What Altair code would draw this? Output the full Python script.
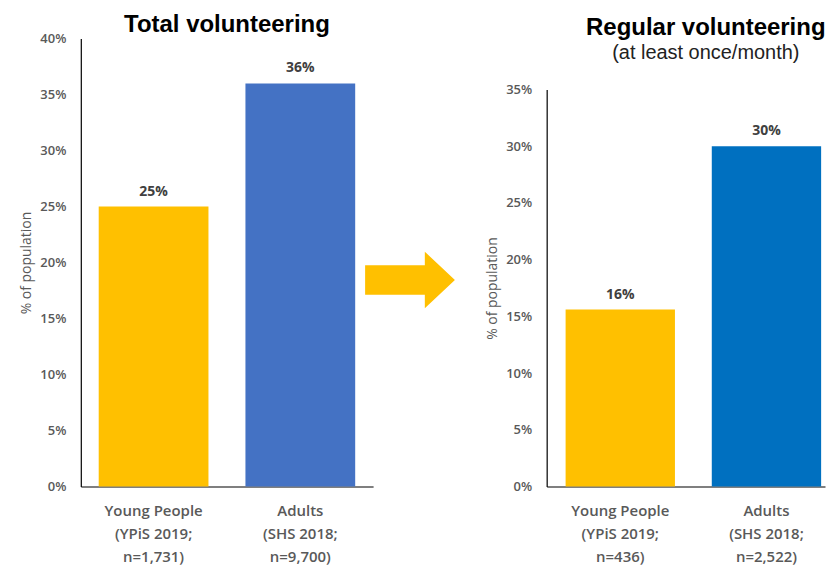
import altair as alt
import pandas as pd

# ---- data ----
groups = ["Young People", "Adults"]
total_sources = ["(YPiS 2019;", "(SHS 2018;"]
total_n = ["n=1,731)", "n=9,700)"]
total_values = [25, 36]
total_labels = ["25%", "36%"]

regular_sources = ["(YPiS 2019;", "(SHS 2018;"]
regular_n = ["n=436)", "n=2,522)"]
regular_values = [15.6, 30]
regular_labels = ["16%", "30%"]

total_ticks = [0, 5, 10, 15, 20, 25, 30, 35, 40]
regular_ticks = [0, 5, 10, 15, 20, 25, 30, 35]

total_colors = ["#FFC000", "#4472C4"]
regular_colors = ["#FFC000", "#0070C0"]

total_df = pd.DataFrame({
    "cat": [f"{g}|{s}|{n}" for g, s, n in zip(groups, total_sources, total_n)],
    "value": total_values,
    "label": total_labels,
    "color": total_colors,
})
regular_df = pd.DataFrame({
    "cat": [f"{g}|{s}|{n}" for g, s, n in zip(groups, regular_sources, regular_n)],
    "value": regular_values,
    "label": regular_labels,
    "color": regular_colors,
})

GRAY = "#595959"


def x_enc(outer, align):
    return alt.X(
        "cat:N", sort=None,
        scale=alt.Scale(paddingInner=0.252, paddingOuter=outer, align=align),
        axis=alt.Axis(
            title=None, labelExpr="split(datum.value, '|')", labelAngle=0,
            labelFont="Open Sans", labelFontSize=15, labelFontWeight=600,
            labelColor=GRAY, labelLineHeight=23, labelPadding=17,
            ticks=False, domainColor="#000000", domainWidth=1.2, grid=False,
        ),
    )


def y_enc(ticks, domain, rng=None):
    sc = alt.Scale(domain=domain, nice=False, zero=True)
    if rng is not None:
        sc = alt.Scale(domain=domain, nice=False, zero=True, range=rng)
    return alt.Y(
        "value:Q", scale=sc,
        axis=alt.Axis(
            title="% of population", values=ticks, labelExpr="datum.value + '%'",
            labelFont="Open Sans", labelFontSize=13, labelFontWeight=600,
            labelColor=GRAY,
            labelPadding=15, titleFont="Open Sans", titleFontSize=14,
            titleFontWeight="normal", titleColor=GRAY, titlePadding=6,
            ticks=False, grid=False, domainColor="#000000", domainWidth=1.2,
        ),
    )


def panel(df, ticks, domain, width, outer, align, title, rng=None):
    base = alt.Chart(df)
    bars = base.mark_bar().encode(
        x=x_enc(outer, align),
        y=y_enc(ticks, domain, rng),
        color=alt.Color("color:N", scale=None),
    )
    text = base.mark_text(
        font="Open Sans", fontSize=14, fontWeight="bold", color="#404040",
        baseline="alphabetic", dy=-11,
    ).encode(x=alt.X("cat:N", sort=None), y="value:Q", text="label:N")
    return (bars + text).properties(width=width, height=449, title=title)


left = panel(
    total_df, total_ticks, [0, 40], 293, 0.122, 0.5,
    alt.TitleParams(
        "Total volunteering", font="Liberation Sans", fontSize=24,
        fontWeight="bold", color="#000000", anchor="middle", frame="group",
        offset=-4,
    ),
)

right = panel(
    regular_df, regular_ticks, [0, 35], 279, 0.078, 0.83,
    alt.TitleParams(
        "Regular volunteering", subtitle="(at least once/month)",
        font="Liberation Sans", fontSize=24, fontWeight="bold", color="#000000",
        subtitleFont="Liberation Sans", subtitleFontSize=20,
        subtitleColor="#222222", subtitlePadding=3,
        anchor="middle", frame="group", offset=-24, dx=20,
    ),
    rng=[449, 51],
)

arrow_path = ("M-1,-0.33 L0.33,-0.33 L0.33,-0.63 L1,0 L0.33,0.63 "
              "L0.33,0.33 L-1,0.33 Z")
arrow = alt.Chart(pd.DataFrame({"a": [0]})).mark_point(
    shape=arrow_path, size=8100, filled=True, color="#FFC000", opacity=1,
    strokeWidth=0,
).encode(x=alt.value(37), y=alt.value(242)).properties(width=174, height=449)

chart = alt.hconcat(left, arrow, right, spacing=0, bounds="flush").properties(
    padding={"left": 19, "top": 12, "right": 0, "bottom": 0},
    background="white",
).configure_view(stroke=None)

chart.save("out.html", embed_options={"renderer": "svg", "actions": False})
